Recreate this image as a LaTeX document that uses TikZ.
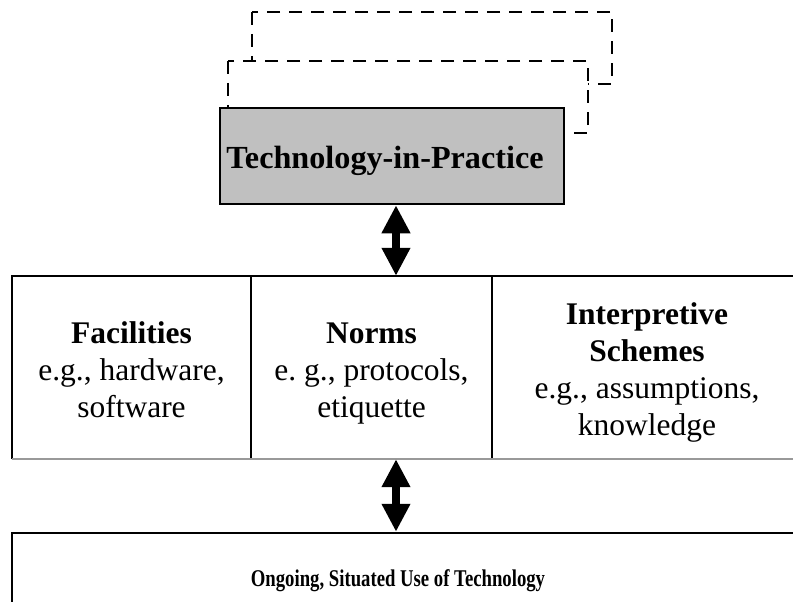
\documentclass[tikz,border=0pt]{standalone}
\usepackage{fontspec}
\setmainfont{Liberation Serif}
\usetikzlibrary{arrows.meta}
\frenchspacing
\begin{document}
\begin{tikzpicture}[x=1pt,y=-1pt,
  ghost/.style={draw=black, fill=white, line width=1.6pt, dash pattern=on 13pt off 9pt},
  cell/.style={draw=none, inner sep=0pt, minimum height=183pt},
  bigtxt/.style={font=\fontsize{31.5}{37}\selectfont, align=center, inner sep=0pt},
  frame/.style={line width=2pt, draw=black},
  dbl/.style={line width=8pt, {Triangle[length=28pt,width=27pt]}-{Triangle[length=28pt,width=27pt]}},
]
\useasboundingbox (0,0) rectangle (793,602);
\clip (0,0) rectangle (793,602);
% stacked dashed frames behind
\draw[ghost] (252,12) rectangle (612,84);
\draw[ghost] (228,61) rectangle (588,133);
% technology-in-practice box
\node[draw=black, fill={rgb,255:red,192;green,192;blue,192}, line width=2.5pt,
      minimum width=344pt, minimum height=96pt, inner sep=0pt] (tip) at (392,156) {};
\node[font=\bfseries\fontsize{32.2}{37}\selectfont, inner sep=0pt, anchor=base] (tiptxt) at (385,168) {Technology-in-Practice};
% middle row cells
\node[cell, minimum width=239pt] (fac) at (131.5,367.5) {};
\node[cell, minimum width=241pt] (norm) at (371.5,367.5) {};
\node[cell, minimum width=310pt] (interp) at (647,367.5) {};
\draw[frame] (fac.south west) -- (fac.north west) -- (interp.north east);
\draw[frame] (fac.north east) -- (fac.south east);
\draw[frame] (norm.north east) -- (norm.south east);
\draw[line width=1.5pt, draw=black!40] (fac.south west) -- (interp.south east);
\node[bigtxt] (factxt) at (131.5,372.6) {\strut\textbf{Facilities}\\e.g., hardware,\\software\strut};
\node[bigtxt] (normtxt) at (371.5,372.6) {\strut\textbf{Norms}\\e. g., protocols,\\etiquette\strut};
\node[bigtxt] (interptxt) at (647,372.6) {\strut\textbf{Interpretive}\\\textbf{Schemes}\\e.g., assumptions,\\knowledge\strut};
% bottom box
\node[draw=black, line width=2.5pt, inner sep=0pt, minimum width=794pt, minimum height=110pt] (use) at (409,588) {};
\node[font=\bfseries\fontsize{24}{28}\selectfont, inner sep=0pt, anchor=base] (usetxt) at (398,586) {\scalebox{0.78}[1]{Ongoing, Situated Use of Technology}};
% arrows
\coordinate (ax) at (396,0);
\draw[dbl] (tip.south -| ax) -- (norm.north -| ax);
\draw[dbl] (norm.south -| ax) -- (use.north -| ax);
\end{tikzpicture}
\end{document}
